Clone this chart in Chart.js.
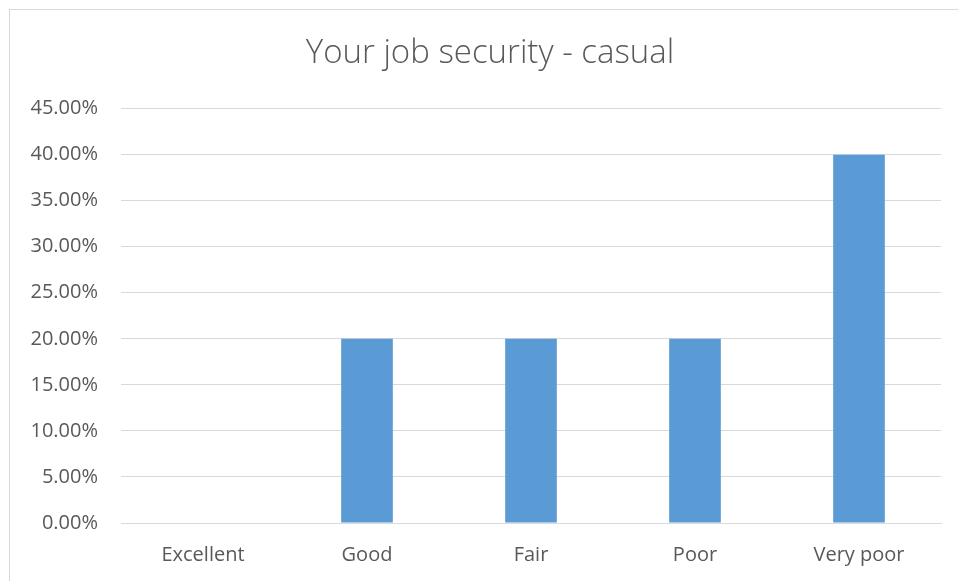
<!DOCTYPE html>
<html>
<head>
<meta charset="utf-8">
<script src="https://cdn.jsdelivr.net/npm/chart.js@4"></script>
<style>
  html, body { margin: 0; padding: 0; background: #fff; }
  #wrap { width: 958px; height: 581px; position: relative; }
</style>
</head>
<body>
<div id="wrap"><canvas id="chart"></canvas></div>
<script>
var categories = ['Excellent', 'Good', 'Fair', 'Poor', 'Very poor'];
var shares = [0, 20, 20, 20, 40];
var yMax = 45;
var yStep = 5;

var textColor = '#595959';
var gridColor = '#d9d9d9';
var fontFamily = "'Open Sans', 'Liberation Sans', sans-serif";

// outer frame of the chart object (only top and left edges fall inside the page)
var framePlugin = {
  id: 'frame',
  beforeDraw: function(chart) {
    var ctx = chart.ctx;
    ctx.save();
    ctx.strokeStyle = gridColor;
    ctx.lineWidth = 1;
    ctx.strokeRect(9.5, 9.5, chart.width + 20, chart.height + 20);
    ctx.restore();
  },
  // centre the title on the whole frame, not just the padded area
  afterLayout: function(chart) {
    if (chart.titleBlock) {
      chart.titleBlock.left = 10;
      chart.titleBlock.right = 970;
    }
  }
};

var ctx = document.getElementById('chart').getContext('2d');
new Chart(ctx, {
  type: 'bar',
  data: {
    labels: categories,
    datasets: [{
      data: shares,
      backgroundColor: '#5b9bd5',
      borderWidth: 0,
      categoryPercentage: 1,
      barPercentage: 0.315
    }]
  },
  options: {
    responsive: true,
    maintainAspectRatio: false,
    animation: false,
    layout: { padding: { top: 10, right: 17, bottom: 0, left: 0 } },
    plugins: {
      legend: { display: false },
      tooltip: { enabled: false },
      title: {
        display: true,
        text: 'Your job security - casual',
        color: textColor,
        font: { family: fontFamily, size: 33, weight: '300' },
        padding: { top: 24, bottom: 35 }
      }
    },
    scales: {
      x: {
        grid: { display: false },
        border: { display: true, color: gridColor, width: 1 },
        ticks: {
          color: textColor,
          font: { family: fontFamily, size: 20 },
          padding: 12,
          maxRotation: 0
        },
        afterFit: function(scale) { scale.height = 58; }
      },
      y: {
        min: 0,
        max: yMax,
        border: { display: false },
        grid: { color: gridColor, lineWidth: 1, drawTicks: false },
        ticks: {
          stepSize: yStep,
          color: textColor,
          font: { family: fontFamily, size: 20 },
          padding: 23,
          callback: function(v) { return v.toFixed(2) + '%'; }
        },
        afterFit: function(scale) { scale.width = 121; }
      }
    }
  },
  plugins: [framePlugin]
});
</script>
</body>
</html>
